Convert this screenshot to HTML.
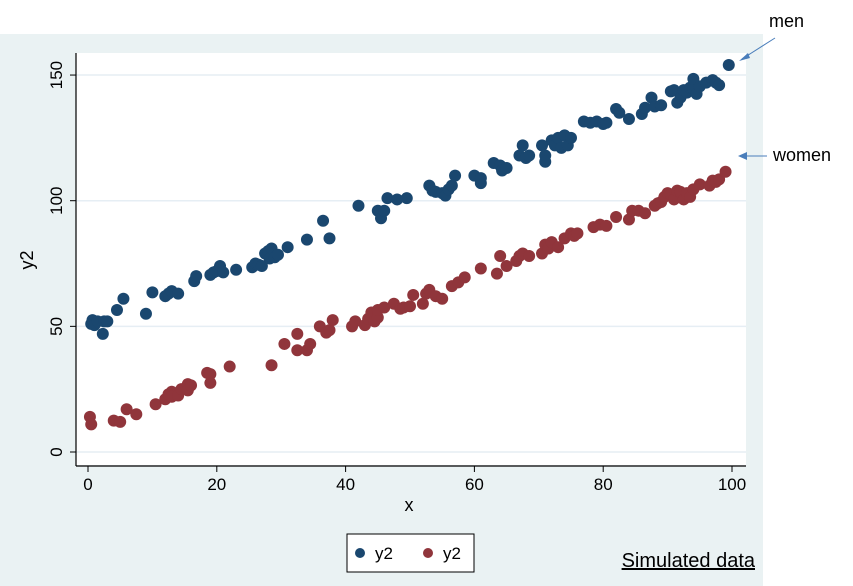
<!DOCTYPE html>
<html><head><meta charset="utf-8"><style>
body{margin:0;background:#fff}
svg{display:block;font-family:"Liberation Sans",sans-serif}
</style></head><body>
<svg id="chart" width="853" height="586" viewBox="0 0 853 586">
<rect x="0" y="34" width="763" height="552" fill="#eaf2f3"/>
<rect x="76" y="53" width="670" height="412" fill="#fff"/>
<g id="grid"></g>
<g id="axes"></g>
<g id="men"></g>
<g id="women"></g>
<text x="33" y="260" font-size="18" text-anchor="middle" transform="rotate(-90 33 260)">y2</text>
<text x="409" y="511" font-size="18" text-anchor="middle">x</text>
<g>
<rect x="347" y="534" width="127" height="38" fill="#fff" stroke="#000" stroke-width="1"/>
<circle cx="360" cy="553" r="5" fill="#1a476f"/>
<text x="375" y="559" font-size="17">y2</text>
<circle cx="428" cy="553" r="5" fill="#90353b"/>
<text x="443" y="559" font-size="17">y2</text>
</g>
<text x="755" y="567" font-size="20" text-anchor="end" text-decoration="underline">Simulated data</text>
<text x="769" y="27" font-size="18">men</text>
<line x1="775" y1="38" x2="742" y2="59" stroke="#4a7ebb" stroke-width="1"/>
<polygon points="739,61 748,53 750,58" fill="#4a7ebb"/>
<text x="773" y="161" font-size="18">women</text>
<line x1="767" y1="156" x2="743" y2="156" stroke="#4a7ebb" stroke-width="1"/>
<polygon points="738,156 747,152 747,160" fill="#4a7ebb"/>
</svg>
<script>
const menX=[0.5,0.7,1,1.5,2.3,2.5,3,4.5,5.5,9,10,12,12.5,13,14,16.5,16.8,19,19.5,20,20.5,21,23,25.5,26,26.5,27,27.5,28,28.2,28.5,29,29.5,31,34,36.5,37.5,42,45,45.5,46,46.5,48,49.5,53,53.5,54,55,55.5,56,56.5,57,60,61,61,63,64,64.3,65,67,67.5,68,68.5,70.5,71,71,72,72.5,73,73.5,74,74.5,75,77,78,79,80,80.5,82,82.5,84,86,86.5,87.5,88,89,90.5,91,91.5,92,92.5,93,93.5,94,94,94.5,95,96,97,97.5,98,99.5];
const menY=[51,52.5,50.5,52,47,52,52,56.5,61,55,63.5,62,63,64,63,68,70,70.5,71.5,72,74,71.5,72.5,73.5,75,74.5,74,79,80,77,81,77.5,78.5,81.5,84.5,92,85,98,96,93,96,101,100.5,101,106,104,103.5,103,102,104.5,106,110,110,107,109,115,114,112,113,118,122,117,118,122,118,115.5,124,122,125,121,126,122,125,131.5,131,131.5,130.5,131,136.5,135,132.5,134.5,137,141,137.5,138,143.5,144,139,141,144,143,145,144.5,148.5,142.5,145.5,147,148,147,146,154];
const womenX=[0.3,0.5,4,5,6,7.5,10.5,12,12.5,13,13,14,14.5,15.5,15.5,16,18.5,19,19,22,28.5,30.5,32.5,32.5,34,34.5,36,37,37.5,38,41,41.5,43,43.5,44,44.5,45,45,46,47.5,48.5,49,50,50.5,52,52.5,53,54,55,56.5,57.5,58.5,61,63.5,64,65,66.5,67,67.5,68.5,70.5,71,71.5,72,73,74,75,75.5,76,78.5,79.5,80.5,82,84,84.5,85.5,86.5,88,88.5,89,89.5,90,90.5,91,91.5,92,92.5,93,93.5,94,95,96.5,97,97.5,98,99];
const womenY=[14,11,12.5,12,17,15,19,21,23,24,22,22.5,25,27,24.5,26.5,31.5,27.5,31,34,34.5,43,47,40.5,40.5,43,50,47.5,48.5,52.5,50,52,50.5,53,55.5,52,53.5,56.5,57.5,59,57,57.5,58,62.5,59,63,64.5,62,61,66,67.5,69.5,73,71,78,74,76,78,79,78,79,82.5,81,83.5,81.5,85,87,86,87,89.5,90.5,90,93.5,92.5,96,96,95,98,99,99.5,101.5,103,102.5,100.5,104,103.5,100.5,103,101.5,104.5,106.5,106,108,107.5,108.5,111.5];
const xTicks=[0,20,40,60,80,100];
const yTicks=[0,50,100,150];
const NS="http://www.w3.org/2000/svg";
function sx(v){return 88+v*6.44;}
function sy(v){return 452-v*2.513;}
function mk(tag,attrs,parent){const e=document.createElementNS(NS,tag);for(const k in attrs)e.setAttribute(k,attrs[k]);parent.appendChild(e);return e;}
const grid=document.getElementById('grid'),axes=document.getElementById('axes');
yTicks.forEach(t=>{
  const g=mk('line',{x1:76,x2:746,y1:sy(t),y2:sy(t),stroke:'#e6eef4','stroke-width':1.5},grid);
  
  
  mk('line',{x1:70,x2:76,y1:sy(t),y2:sy(t),stroke:'#000'},axes);
  const tx=mk('text',{x:62,y:sy(t),'font-size':17,'text-anchor':'middle',transform:`rotate(-90 62 ${sy(t)})`},axes);
  tx.textContent=t;
  
  
});
xTicks.forEach(t=>{
  mk('line',{x1:sx(t),x2:sx(t),y1:466,y2:472,stroke:'#000'},axes);
  const tx=mk('text',{x:sx(t),y:490,'font-size':17,'text-anchor':'middle'},axes);
  tx.textContent=t;
  
  
});
mk('line',{x1:76,x2:76,y1:53,y2:466,stroke:'#000','stroke-width':1.2},axes);
mk('line',{x1:76,x2:746,y1:466,y2:466,stroke:'#000','stroke-width':1.2},axes);
function pts(xs,ys,g,col,name){xs.forEach((x,i)=>{const c=mk('circle',{cx:sx(x),cy:sy(ys[i]),r:6,fill:col},g);
  
  });}
pts(menX,menY,document.getElementById('men'),'#1a476f','point-men');
pts(womenX,womenY,document.getElementById('women'),'#90353b','point-women');
</script>
</body></html>
